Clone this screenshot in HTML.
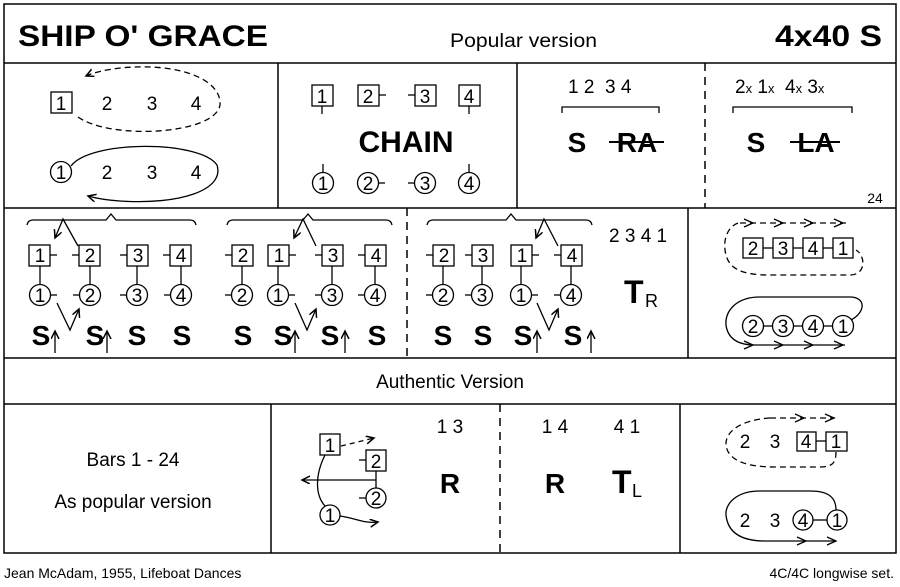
<!DOCTYPE html>
<html><head><meta charset="utf-8"><style>
html,body{margin:0;padding:0;background:#fff}
svg{display:block}
text{font-family:"Liberation Sans",sans-serif;fill:#000}
.d{font-size:19px}
.b{font-weight:bold}
</style></head><body>
<svg width="900" height="587" viewBox="0 0 900 587" xmlns="http://www.w3.org/2000/svg">
<defs>
<marker id="a" markerWidth="10" markerHeight="10" refX="8" refY="4" orient="auto" markerUnits="userSpaceOnUse"><path d="M0,0 L8,4 L0,8" fill="none" stroke="#000" stroke-width="1.5"/></marker>
</defs>
<g fill="none" stroke="#000" stroke-width="1.5">
<rect x="4" y="4" width="892" height="549"/>
<line x1="4" y1="63" x2="896" y2="63"/>
<line x1="4" y1="208" x2="896" y2="208"/>
<line x1="4" y1="358" x2="896" y2="358"/>
<line x1="4" y1="404" x2="896" y2="404"/>
<line x1="278" y1="63" x2="278" y2="208"/>
<line x1="517" y1="63" x2="517" y2="208"/>
<line x1="705" y1="63" x2="705" y2="208" stroke-dasharray="8,6"/>
<line x1="688" y1="208" x2="688" y2="358"/>
<line x1="407" y1="208" x2="407" y2="358" stroke-dasharray="8,6"/>
<line x1="271" y1="404" x2="271" y2="553"/>
<line x1="500" y1="404" x2="500" y2="553" stroke-dasharray="8,6"/>
<line x1="680" y1="404" x2="680" y2="553"/>
</g>
<!-- title -->
<text x="18" y="46" class="b" font-size="30" textLength="250" lengthAdjust="spacingAndGlyphs">SHIP O' GRACE</text>
<text x="450" y="47" font-size="19" textLength="147" lengthAdjust="spacingAndGlyphs">Popular version</text>
<text x="882" y="46" class="b" font-size="30" text-anchor="end" textLength="107" lengthAdjust="spacingAndGlyphs">4x40 S</text>

<!-- row2 cell1 -->
<g fill="none" stroke="#000" stroke-width="1.3">
<rect x="51" y="92" width="21" height="21"/>
<path d="M78,117 C110,140 215,135 220,105 C222,80 180,62 120,68 C105,70 95,72 86,76" stroke-dasharray="6,4" marker-end="url(#a)"/>
<circle cx="61" cy="172" r="10.5"/>
<path d="M71,166 C90,140 200,140 217,165 C225,190 180,205 120,201 C105,200 95,198 88,196" marker-end="url(#a)"/>
</g>
<g class="d" text-anchor="middle">
<text x="61" y="110">1</text><text x="107" y="110">2</text><text x="152" y="110">3</text><text x="196" y="110">4</text>
<text x="61" y="179">1</text><text x="107" y="179">2</text><text x="152" y="179">3</text><text x="196" y="179">4</text>
</g>

<!-- row2 CHAIN -->
<g fill="none" stroke="#000" stroke-width="1.3">
<rect x="312" y="85" width="21" height="21"/><line x1="322" y1="106" x2="322" y2="114"/>
<rect x="358" y="85" width="21" height="21"/><line x1="379" y1="95" x2="386" y2="95"/>
<rect x="415" y="85" width="21" height="21"/><line x1="408" y1="95" x2="415" y2="95"/>
<rect x="459" y="85" width="21" height="21"/><line x1="469" y1="106" x2="469" y2="114"/>
<circle cx="323" cy="183" r="10.5"/><line x1="323" y1="164" x2="323" y2="172"/>
<circle cx="368" cy="183" r="10.5"/><line x1="378" y1="183" x2="385" y2="183"/>
<circle cx="425" cy="183" r="10.5"/><line x1="408" y1="183" x2="415" y2="183"/>
<circle cx="469" cy="183" r="10.5"/><line x1="469" y1="164" x2="469" y2="172"/>
</g>
<g class="d" text-anchor="middle">
<text x="322" y="103">1</text><text x="368" y="103">2</text><text x="425" y="103">3</text><text x="469" y="103">4</text>
<text x="323" y="190">1</text><text x="368" y="190">2</text><text x="425" y="190">3</text><text x="469" y="190">4</text>
</g>
<text x="406" y="152" class="b" font-size="30" text-anchor="middle">CHAIN</text>

<!-- row2 cell3/4 -->
<text x="568" y="93" class="d">1 2&#160;&#160;3 4</text>
<path d="M562,113 V107 H659 V113" fill="none" stroke="#000" stroke-width="1.3"/>
<text x="577" y="152" class="b" font-size="28" text-anchor="middle">S</text>
<text x="637" y="152" class="b" font-size="28" text-anchor="middle">RA</text>
<line x1="609" y1="142" x2="664" y2="142" stroke="#000" stroke-width="2"/>
<text x="735" y="93" class="d">2<tspan font-size="13">x</tspan> 1<tspan font-size="13">x</tspan>&#160;&#160;4<tspan font-size="13">x</tspan> 3<tspan font-size="13">x</tspan></text>
<path d="M733,113 V107 H852 V113" fill="none" stroke="#000" stroke-width="1.3"/>
<text x="756" y="152" class="b" font-size="28" text-anchor="middle">S</text>
<text x="816" y="152" class="b" font-size="28" text-anchor="middle">LA</text>
<line x1="790" y1="142" x2="840" y2="142" stroke="#000" stroke-width="2"/>
<text x="875" y="203" font-size="14" text-anchor="middle">24</text>

<!-- row3 -->
<g fill="none" stroke="#000" stroke-width="1.3">
<path d="M27,225 Q28,220 33,220 H106 L111,214 L116,220 H190 Q195,220 196,225"/>
<path d="M227,225 Q228,220 233,220 H303 L308,214 L313,220 H386 Q391,220 392,225"/>
<path d="M427,225 Q428,220 433,220 H506 L511,214 L516,220 H586 Q591,220 592,225"/>
<!-- group1 -->
<rect x="29" y="245" width="21" height="21"/><line x1="50" y1="255" x2="57" y2="255"/>
<rect x="79" y="245" width="21" height="21"/><line x1="72" y1="255" x2="79" y2="255"/>
<rect x="127" y="245" width="21" height="21"/><line x1="120" y1="255" x2="127" y2="255"/>
<rect x="170" y="245" width="21" height="21"/><line x1="163" y1="255" x2="170" y2="255"/>
<circle cx="40" cy="295" r="10.5"/><line x1="50" y1="295" x2="57" y2="295"/>
<circle cx="90" cy="295" r="10.5"/><line x1="73" y1="295" x2="80" y2="295"/>
<circle cx="137" cy="295" r="10.5"/><line x1="120" y1="295" x2="127" y2="295"/>
<circle cx="181" cy="295" r="10.5"/><line x1="164" y1="295" x2="171" y2="295"/>
<line x1="40" y1="266" x2="40" y2="285"/><line x1="90" y1="266" x2="90" y2="285"/><line x1="137" y1="266" x2="137" y2="285"/><line x1="181" y1="266" x2="181" y2="285"/>
<path d="M78,246 L63,219 L55,238" marker-end="url(#a)"/>
<path d="M57,303 L70,330 L79,309" marker-end="url(#a)"/>
<line x1="55" y1="353" x2="55" y2="331" marker-end="url(#a)"/>
<line x1="107" y1="353" x2="107" y2="331" marker-end="url(#a)"/>
<!-- group2 -->
<rect x="232" y="245" width="21" height="21"/><line x1="225" y1="255" x2="232" y2="255"/>
<rect x="268" y="245" width="21" height="21"/><line x1="289" y1="255" x2="296" y2="255"/>
<rect x="322" y="245" width="21" height="21"/><line x1="315" y1="255" x2="322" y2="255"/>
<rect x="365" y="245" width="21" height="21"/><line x1="358" y1="255" x2="365" y2="255"/>
<circle cx="242" cy="295" r="10.5"/><line x1="225" y1="295" x2="232" y2="295"/>
<circle cx="278" cy="295" r="10.5"/><line x1="288" y1="295" x2="295" y2="295"/>
<circle cx="332" cy="295" r="10.5"/><line x1="315" y1="295" x2="322" y2="295"/>
<circle cx="375" cy="295" r="10.5"/><line x1="358" y1="295" x2="365" y2="295"/>
<line x1="242" y1="266" x2="242" y2="285"/><line x1="278" y1="266" x2="278" y2="285"/><line x1="332" y1="266" x2="332" y2="285"/><line x1="375" y1="266" x2="375" y2="285"/>
<path d="M316,246 L303,219 L294,238" marker-end="url(#a)"/>
<path d="M295,303 L307,330 L316,309" marker-end="url(#a)"/>
<line x1="295" y1="353" x2="295" y2="331" marker-end="url(#a)"/>
<line x1="345" y1="353" x2="345" y2="331" marker-end="url(#a)"/>
<!-- group3 -->
<rect x="433" y="245" width="21" height="21"/><line x1="426" y1="255" x2="433" y2="255"/>
<rect x="472" y="245" width="21" height="21"/><line x1="465" y1="255" x2="472" y2="255"/>
<rect x="511" y="245" width="21" height="21"/><line x1="532" y1="255" x2="539" y2="255"/>
<rect x="561" y="245" width="21" height="21"/><line x1="554" y1="255" x2="561" y2="255"/>
<circle cx="443" cy="295" r="10.5"/><line x1="426" y1="295" x2="433" y2="295"/>
<circle cx="482" cy="295" r="10.5"/><line x1="465" y1="295" x2="472" y2="295"/>
<circle cx="521" cy="295" r="10.5"/><line x1="531" y1="295" x2="538" y2="295"/>
<circle cx="571" cy="295" r="10.5"/><line x1="554" y1="295" x2="561" y2="295"/>
<line x1="443" y1="266" x2="443" y2="285"/><line x1="482" y1="266" x2="482" y2="285"/><line x1="521" y1="266" x2="521" y2="285"/><line x1="571" y1="266" x2="571" y2="285"/>
<path d="M558,246 L544,219 L536,238" marker-end="url(#a)"/>
<path d="M537,303 L549,330 L558,309" marker-end="url(#a)"/>
<line x1="537" y1="353" x2="537" y2="331" marker-end="url(#a)"/>
<line x1="591" y1="353" x2="591" y2="331" marker-end="url(#a)"/>
</g>
<g class="d" text-anchor="middle">
<text x="40" y="262">1</text><text x="90" y="262">2</text><text x="138" y="262">3</text><text x="181" y="262">4</text>
<text x="40" y="302">1</text><text x="90" y="302">2</text><text x="137" y="302">3</text><text x="181" y="302">4</text>
<text x="243" y="262">2</text><text x="279" y="262">1</text><text x="333" y="262">3</text><text x="376" y="262">4</text>
<text x="242" y="302">2</text><text x="278" y="302">1</text><text x="332" y="302">3</text><text x="375" y="302">4</text>
<text x="444" y="262">2</text><text x="483" y="262">3</text><text x="522" y="262">1</text><text x="572" y="262">4</text>
<text x="443" y="302">2</text><text x="482" y="302">3</text><text x="521" y="302">1</text><text x="571" y="302">4</text>
</g>
<g class="b" font-size="28" text-anchor="middle">
<text x="41" y="345">S</text><text x="95" y="345">S</text><text x="137" y="345">S</text><text x="182" y="345">S</text>
<text x="243" y="345">S</text><text x="283" y="345">S</text><text x="330" y="345">S</text><text x="377" y="345">S</text>
<text x="443" y="345">S</text><text x="483" y="345">S</text><text x="523" y="345">S</text><text x="573" y="345">S</text>
</g>
<text x="609" y="242" class="d">2 3 4 1</text>
<text x="624" y="303" class="b" font-size="32">T</text><text x="645" y="307" font-size="18">R</text>

<!-- row3 right -->
<g fill="none" stroke="#000" stroke-width="1.3">
<path d="M738,223 C725,228 722,245 727,258 C732,272 750,275 770,275 L850,275 C866,275 866,256 856,250" stroke-dasharray="6,4"/>
<line x1="740" y1="223" x2="846" y2="223" stroke-dasharray="6,4"/>
<path d="M744,219 L753,223 L744,227 M774,219 L783,223 L774,227 M804,219 L813,223 L804,227 M834,219 L843,223 L834,227"/>
<rect x="743" y="238" width="20" height="20"/><line x1="763" y1="248" x2="773" y2="248"/>
<rect x="773" y="238" width="20" height="20"/><line x1="793" y1="248" x2="803" y2="248"/>
<rect x="803" y="238" width="20" height="20"/><line x1="823" y1="248" x2="833" y2="248"/>
<rect x="833" y="238" width="20" height="20"/>
<path d="M851,320 C866,312 866,297 850,297 L760,297 C735,297 725,312 726,325 C728,340 740,345 755,345 L845,345"/>
<path d="M744,341 L753,345 L744,349 M774,341 L783,345 L774,349 M804,341 L813,345 L804,349 M834,341 L843,345 L834,349"/>
<circle cx="753" cy="326" r="10.5"/><line x1="763" y1="326" x2="773" y2="326"/>
<circle cx="783" cy="326" r="10.5"/><line x1="793" y1="326" x2="803" y2="326"/>
<circle cx="813" cy="326" r="10.5"/><line x1="823" y1="326" x2="833" y2="326"/>
<circle cx="843" cy="326" r="10.5"/>
</g>
<g class="d" text-anchor="middle">
<text x="753" y="255">2</text><text x="783" y="255">3</text><text x="813" y="255">4</text><text x="843" y="255">1</text>
<text x="753" y="333">2</text><text x="783" y="333">3</text><text x="813" y="333">4</text><text x="843" y="333">1</text>
</g>

<text x="450" y="388" class="d" text-anchor="middle">Authentic Version</text>

<!-- row5 -->
<text x="133" y="466" class="d" text-anchor="middle">Bars 1 - 24</text>
<text x="133" y="508" class="d" text-anchor="middle">As popular version</text>
<g fill="none" stroke="#000" stroke-width="1.3">
<rect x="320" y="434" width="20" height="21"/>
<path d="M341,446 L374,438" stroke-dasharray="5,4" marker-end="url(#a)"/>
<rect x="366" y="450" width="20" height="21"/><line x1="359" y1="460" x2="366" y2="460"/>
<line x1="376" y1="471" x2="376" y2="488"/>
<line x1="376" y1="480" x2="302" y2="480" marker-end="url(#a)"/>
<circle cx="376" cy="498" r="10"/><line x1="359" y1="498" x2="366" y2="498"/>
<path d="M325,455 C315,475 315,495 325,506"/>
<circle cx="330" cy="515" r="10"/>
<path d="M340,516 C355,518 365,524 378,522" marker-end="url(#a)"/>
</g>
<g class="d" text-anchor="middle">
<text x="330" y="452">1</text><text x="376" y="468">2</text><text x="376" y="505">2</text><text x="330" y="522">1</text>
</g>
<text x="450" y="433" class="d" text-anchor="middle">1 3</text>
<text x="450" y="493" class="b" font-size="28" text-anchor="middle">R</text>
<text x="555" y="433" class="d" text-anchor="middle">1 4</text>
<text x="627" y="433" class="d" text-anchor="middle">4 1</text>
<text x="555" y="493" class="b" font-size="28" text-anchor="middle">R</text>
<text x="612" y="493" class="b" font-size="32">T</text><text x="632" y="497" font-size="18">L</text>

<g fill="none" stroke="#000" stroke-width="1.3">
<path d="M770,418 C740,420 725,432 726,445 C728,462 750,467 775,467 L820,467 C833,467 836,462 836,452" stroke-dasharray="6,4"/>
<line x1="770" y1="418" x2="835" y2="418" stroke-dasharray="6,4"/>
<path d="M795,414 L804,418 L795,422 M825,414 L834,418 L825,422"/>
<rect x="797" y="432" width="19" height="19"/><line x1="816" y1="441" x2="826" y2="441"/>
<rect x="826" y="432" width="21" height="19"/>
<path d="M836,510 C836,495 825,491 810,491 L760,491 C735,491 725,505 726,515 C728,535 745,541 765,541 L836,541"/>
<path d="M797,537 L806,541 L797,545 M827,537 L836,541 L827,545"/>
<circle cx="803" cy="520" r="10"/><line x1="813" y1="520" x2="827" y2="520"/>
<circle cx="837" cy="520" r="10"/>
</g>
<g class="d" text-anchor="middle">
<text x="745" y="448">2</text><text x="775" y="448">3</text><text x="806" y="448">4</text><text x="836" y="448">1</text>
<text x="745" y="527">2</text><text x="775" y="527">3</text><text x="803" y="527">4</text><text x="837" y="527">1</text>
</g>

<text x="4" y="578" font-size="14">Jean McAdam, 1955, Lifeboat Dances</text>
<text x="894" y="578" font-size="14" text-anchor="end">4C/4C longwise set.</text>
</svg>
</body></html>
